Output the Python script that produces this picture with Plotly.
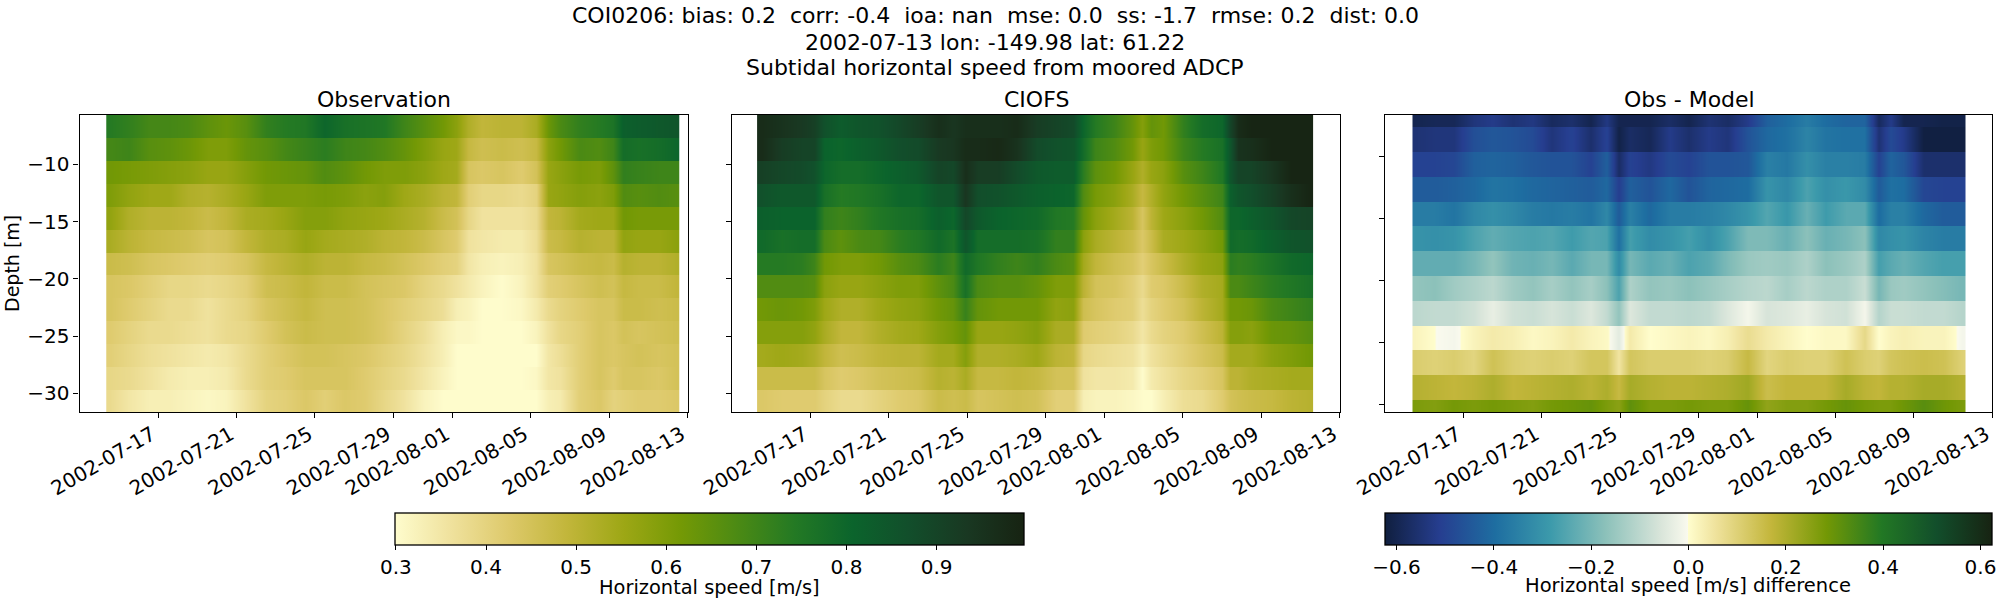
import pandas as pd
import plotly.graph_objects as go

# days since 2002-07-13 for each column, depth of each bin [m]
obs_days = [1.5,2.5,3.5,4.5,5.5,6.5,7.5,8.5,9.5,10.5,11.5,12.5,13.5,14.5,15.5,16.5,17.5,18.5,19.2,19.8,20.5,21.5,22.5,23.3,23.9,24.5,25.5,26.5,27.2,27.7,28.5,29.5,30.5]
obs_span = [1.35, 30.57]
obs_depth = [-6.7,-8.7,-10.7,-12.7,-14.7,-16.7,-18.7,-20.7,-22.7,-24.7,-26.7,-28.7,-30.7]
obs_speed = [
    [.74,.72,.69,.69,.68,.65,.63,.66,.72,.74,.75,.80,.77,.76,.75,.70,.66,.62,.58,.52,.49,.50,.50,.53,.63,.68,.72,.74,.76,.82,.83,.84,.85],
    [.69,.70,.66,.65,.63,.60,.60,.64,.66,.69,.71,.73,.70,.69,.67,.64,.60,.56,.55,.48,.46,.47,.46,.48,.58,.62,.68,.67,.70,.78,.77,.78,.80],
    [.62,.61,.60,.59,.58,.56,.56,.59,.62,.63,.64,.67,.65,.62,.60,.60,.58,.55,.54,.44,.43,.44,.42,.45,.56,.58,.61,.60,.65,.72,.71,.70,.70],
    [.60,.57,.55,.55,.52,.51,.53,.56,.60,.60,.60,.61,.60,.58,.59,.55,.53,.50,.49,.41,.39,.39,.38,.40,.56,.57,.59,.58,.60,.67,.66,.67,.66],
    [.57,.52,.50,.50,.49,.47,.49,.53,.54,.56,.59,.59,.57,.56,.55,.53,.51,.47,.45,.39,.36,.36,.36,.38,.49,.50,.54,.55,.55,.62,.61,.61,.61],
    [.53,.50,.48,.47,.46,.44,.45,.49,.52,.53,.56,.54,.53,.52,.50,.49,.47,.44,.42,.36,.35,.34,.34,.37,.47,.48,.51,.50,.50,.57,.56,.56,.58],
    [.47,.46,.44,.43,.42,.41,.42,.44,.48,.50,.52,.50,.50,.48,.47,.45,.43,.41,.40,.35,.33,.32,.33,.36,.44,.45,.47,.48,.47,.51,.50,.50,.52],
    [.44,.43,.41,.39,.39,.38,.39,.41,.46,.47,.49,.47,.47,.45,.44,.43,.40,.38,.36,.34,.32,.30,.32,.36,.41,.42,.44,.46,.45,.48,.47,.47,.49],
    [.44,.42,.40,.38,.38,.36,.38,.40,.44,.46,.48,.46,.46,.45,.43,.41,.39,.37,.33,.32,.30,.30,.31,.34,.38,.40,.42,.44,.44,.47,.47,.46,.47],
    [.42,.40,.38,.38,.37,.36,.38,.39,.42,.45,.47,.46,.46,.45,.43,.40,.37,.33,.31,.31,.30,.30,.30,.32,.36,.39,.41,.44,.43,.45,.44,.45,.46],
    [.41,.39,.37,.36,.35,.34,.35,.38,.41,.43,.45,.45,.44,.43,.41,.39,.36,.33,.30,.30,.30,.30,.30,.30,.35,.37,.41,.44,.43,.44,.45,.44,.45],
    [.39,.38,.36,.34,.33,.33,.34,.38,.41,.42,.44,.44,.44,.42,.40,.38,.35,.32,.30,.30,.30,.30,.30,.31,.35,.36,.41,.44,.42,.44,.44,.43,.45],
    [.38,.35,.33,.33,.32,.31,.32,.36,.40,.41,.43,.41,.43,.42,.39,.36,.32,.30,.30,.30,.30,.30,.30,.30,.33,.34,.41,.43,.40,.41,.42,.42,.43],
]

mod_days = [1.5,2.5,3.5,4.2,4.7,5.5,6.5,7.5,8.5,9.5,10.5,11.3,11.9,12.5,13.5,14.5,15.5,16.5,17.4,17.9,18.5,19.5,20.4,20.9,21.4,22,23,24,25,25.4,25.8,26.5,27.5,28.5,29.5]
mod_span = [1.27, 29.65]
mod_speed = [
    [.97,.95,.93,.91,.86,.83,.85,.86,.89,.92,.96,.94,.96,.96,.96,.97,.92,.90,.88,.80,.74,.70,.64,.59,.64,.62,.72,.78,.80,.90,.97,.99,.99,.99,.99],
    [.97,.92,.90,.90,.81,.80,.82,.84,.87,.88,.93,.94,.97,.97,.98,.95,.88,.86,.85,.78,.70,.67,.62,.56,.60,.62,.70,.74,.77,.85,.95,.96,.99,.99,.99],
    [.91,.89,.88,.86,.80,.78,.78,.80,.82,.84,.90,.89,.96,.92,.92,.88,.84,.83,.83,.73,.65,.62,.56,.52,.56,.58,.66,.70,.75,.85,.90,.90,.94,.99,.99],
    [.86,.84,.84,.84,.77,.74,.75,.77,.80,.80,.85,.85,.94,.87,.86,.84,.82,.81,.80,.67,.61,.58,.53,.48,.52,.57,.62,.66,.70,.82,.85,.87,.91,.96,.99],
    [.82,.81,.81,.81,.72,.70,.72,.75,.77,.78,.82,.80,.89,.84,.81,.80,.79,.75,.74,.64,.58,.54,.50,.44,.50,.55,.58,.62,.67,.80,.80,.82,.85,.89,.90],
    [.79,.77,.78,.78,.68,.65,.68,.69,.73,.75,.79,.76,.85,.78,.78,.78,.77,.72,.72,.58,.53,.50,.47,.43,.47,.53,.55,.58,.62,.79,.78,.79,.82,.85,.86],
    [.74,.74,.73,.70,.62,.60,.60,.62,.66,.68,.73,.70,.79,.75,.72,.70,.72,.68,.66,.54,.49,.46,.44,.41,.44,.47,.52,.56,.58,.73,.72,.73,.76,.79,.80],
    [.67,.67,.67,.66,.58,.56,.56,.58,.60,.60,.65,.68,.77,.68,.66,.66,.64,.60,.60,.50,.45,.44,.41,.38,.42,.43,.47,.52,.54,.68,.68,.70,.73,.75,.77],
    [.62,.63,.62,.60,.55,.52,.52,.55,.57,.58,.62,.64,.71,.64,.62,.62,.62,.57,.58,.46,.44,.42,.41,.37,.40,.42,.45,.50,.54,.62,.62,.63,.68,.70,.72],
    [.59,.59,.59,.57,.53,.49,.49,.52,.54,.55,.59,.61,.64,.56,.56,.57,.59,.53,.53,.42,.41,.40,.38,.35,.38,.40,.42,.46,.50,.59,.59,.58,.63,.64,.66],
    [.54,.55,.54,.52,.49,.46,.47,.49,.50,.50,.54,.54,.59,.52,.52,.53,.55,.50,.49,.39,.38,.37,.36,.33,.36,.38,.41,.44,.47,.54,.54,.54,.58,.60,.62],
    [.47,.47,.47,.47,.44,.42,.43,.45,.46,.47,.51,.50,.53,.48,.48,.49,.48,.45,.45,.36,.35,.35,.34,.30,.34,.36,.39,.41,.44,.50,.50,.52,.53,.54,.54],
    [.43,.42,.42,.42,.40,.38,.38,.40,.42,.43,.47,.46,.47,.44,.45,.46,.45,.41,.41,.33,.32,.32,.31,.30,.30,.33,.37,.38,.42,.45,.46,.47,.48,.50,.51],
]

diff_days = [1.5,2.5,3.5,4.5,5.5,6.5,7.5,8.5,9.5,10.5,11.3,11.9,12.5,13.5,14.5,15.5,16.5,17.5,18.5,19.5,20.5,21.5,22.5,23.5,24.5,25.2,25.8,26.5,27.5,28.5,29.5]
diff_span = [1.38, 29.67]
diff_depth = [-6.64,-8.64,-10.64,-12.64,-14.64,-16.64,-18.64,-20.64,-22.64,-24.64,-26.64,-28.64,-30.64]
diff_speed = [
    [-.60,-.59,-.59,-.54,-.52,-.55,-.53,-.58,-.56,-.60,-.53,-.60,-.60,-.60,-.57,-.60,-.55,-.57,-.52,-.43,-.40,-.36,-.40,-.42,-.42,-.58,-.52,-.60,-.60,-.61,-.61],
    [-.55,-.54,-.54,-.47,-.45,-.46,-.48,-.54,-.50,-.56,-.50,-.61,-.57,-.59,-.52,-.56,-.52,-.54,-.46,-.41,-.39,-.34,-.38,-.39,-.39,-.55,-.48,-.52,-.62,-.62,-.62],
    [-.50,-.50,-.49,-.43,-.42,-.43,-.45,-.46,-.46,-.50,-.43,-.57,-.50,-.53,-.48,-.50,-.46,-.46,-.45,-.35,-.37,-.31,-.35,-.35,-.36,-.50,-.42,-.45,-.56,-.56,-.56],
    [-.44,-.44,-.43,-.41,-.38,-.39,-.41,-.42,-.43,-.44,-.41,-.51,-.43,-.46,-.41,-.46,-.42,-.41,-.40,-.30,-.33,-.26,-.31,-.29,-.32,-.44,-.39,-.40,-.49,-.50,-.50],
    [-.36,-.36,-.38,-.33,-.31,-.33,-.36,-.37,-.36,-.38,-.33,-.44,-.35,-.41,-.36,-.36,-.35,-.33,-.30,-.25,-.29,-.22,-.28,-.24,-.24,-.40,-.35,-.35,-.41,-.44,-.44],
    [-.30,-.31,-.30,-.26,-.23,-.25,-.26,-.25,-.28,-.25,-.26,-.39,-.27,-.32,-.30,-.27,-.31,-.26,-.19,-.19,-.22,-.17,-.22,-.20,-.17,-.33,-.31,-.30,-.34,-.36,-.36],
    [-.23,-.23,-.23,-.20,-.16,-.21,-.22,-.20,-.24,-.20,-.20,-.32,-.20,-.24,-.22,-.26,-.24,-.19,-.15,-.14,-.15,-.12,-.17,-.15,-.12,-.27,-.24,-.22,-.25,-.27,-.27],
    [-.16,-.17,-.14,-.12,-.10,-.14,-.16,-.13,-.16,-.13,-.17,-.26,-.12,-.16,-.15,-.17,-.15,-.13,-.11,-.10,-.13,-.10,-.12,-.12,-.08,-.20,-.15,-.14,-.16,-.18,-.20],
    [-.10,-.09,-.09,-.07,-.03,-.07,-.08,-.06,-.08,-.05,-.09,-.16,-.05,-.09,-.09,-.10,-.09,-.05,-.01,-.06,-.05,-.03,-.06,-.07,-.01,-.11,-.08,-.08,-.09,-.09,-.11],
    [.02,.00,-.01,.02,.04,.03,.01,.02,.04,.02,.01,-.04,.04,.00,.01,.02,.01,.03,.07,.04,.02,.00,.01,.01,.08,.00,.02,.03,.02,.02,-.01],
    [.11,.10,.11,.09,.14,.11,.10,.11,.10,.13,.13,.05,.13,.11,.11,.11,.10,.11,.16,.09,.11,.10,.10,.14,.11,.10,.13,.14,.15,.14,.10],
    [.19,.18,.17,.18,.20,.17,.18,.19,.20,.18,.20,.16,.21,.19,.18,.18,.19,.20,.22,.15,.17,.17,.17,.21,.18,.17,.19,.19,.21,.21,.19],
    [.27,.26,.28,.27,.28,.27,.26,.28,.29,.30,.27,.25,.31,.27,.27,.28,.27,.27,.30,.24,.26,.26,.28,.30,.28,.27,.27,.29,.32,.29,.27],
]

date_ticks = ["2002-07-17","2002-07-21","2002-07-25","2002-07-29","2002-08-01","2002-08-05","2002-08-09","2002-08-13"]
depth_ticks = [-10,-15,-20,-25,-30]
speed_ticks = [0.3,0.4,0.5,0.6,0.7,0.8,0.9]
diff_ticks = [-0.6,-0.4,-0.2,0.0,0.2,0.4,0.6]
suptitle = ["COI0206: bias: 0.2  corr: -0.4  ioa: nan  mse: 0.0  ss: -1.7  rmse: 0.2  dist: 0.0",
            "2002-07-13 lon: -149.98 lat: 61.22",
            "Subtidal horizontal speed from moored ADCP"]

# plotly's own delta is too coarse around zero, where the map jumps to pale yellow
delta_scale = [[0, "rgb(16,31,63)"], [0.0909, "rgb(38,62,144)"], [0.1818, "rgb(30,110,161)"],
               [0.2727, "rgb(60,154,171)"], [0.3636, "rgb(140,193,186)"], [0.4545, "rgb(217,229,218)"],
               [0.4995, "rgb(250,250,238)"], [0.5, "rgb(255,253,205)"], [0.5454, "rgb(239,226,156)"],
               [0.6363, "rgb(195,182,59)"], [0.7272, "rgb(115,152,5)"], [0.8181, "rgb(34,120,36)"],
               [0.909, "rgb(18,78,43)"], [1, "rgb(23,35,18)"]]

W, H = 2000, 600
FONT = "DejaVu Sans"
start = pd.Timestamp("2002-07-13")


def px(x):
    return x / W


def py(y):
    return 1 - y / H


def to_dates(days):
    return [(start + pd.Timedelta(days=d)).strftime("%Y-%m-%d %H:%M:%S") for d in days]


def panel(days, span, depth, rows, **kw):
    # smooth along time but keep the depth bins as hard steps, so every
    # bin is given twice, once near each of its edges
    xs = [span[0] + 0.02, span[0] + 0.04] + days + [span[1] - 0.04, span[1] - 0.02]
    ys, zs = [], []
    for d, r in zip(depth, rows):
        r2 = [r[0], r[0]] + r + [r[-1], r[-1]]
        ys += [d + 0.99, d - 0.99]
        zs += [r2, r2]
    return go.Heatmap(x=to_dates(xs), y=ys, z=zs, zsmooth="best", hoverinfo="skip", **kw)


def cbar(left, right, ticks):
    return dict(orientation="h", x=px(left), xanchor="left", y=py(513), yanchor="top",
                len=right - left, lenmode="pixels", thickness=32, thicknessmode="pixels",
                outlinecolor="black", outlinewidth=1.3, ticks="outside", ticklen=5, tickwidth=1.2,
                tickcolor="black", tickvals=ticks, tickformat=".1f",
                tickfont=dict(family=FONT, size=20, color="black"), xpad=0, ypad=0)


fig = go.Figure()
fig.add_trace(panel(obs_days, obs_span, obs_depth, obs_speed, colorscale="speed", zmin=0.299, zmax=0.997,
                    xaxis="x", yaxis="y", colorbar=cbar(395, 1024, speed_ticks)))
fig.add_trace(panel(mod_days, mod_span, obs_depth, mod_speed, colorscale="speed", zmin=0.299, zmax=0.997,
                    xaxis="x2", yaxis="y2", showscale=False))
fig.add_trace(panel(diff_days, diff_span, diff_depth, diff_speed, colorscale=delta_scale, zmin=-0.6236, zmax=0.6236,
                    xaxis="x3", yaxis="y3", colorbar=cbar(1385, 1992, diff_ticks)))

bounds = [(79.6, 687.5), (732, 1339.6), (1385.3, 1992)]
y_ranges = [(-31.63, -5.7), (-31.63, -5.7), (-30.62, -6.67)]
layout = dict(width=W, height=H, margin=dict(l=0, r=0, t=0, b=0, autoexpand=False),
              paper_bgcolor="white", plot_bgcolor="white", showlegend=False)
for i, (l, r) in enumerate(bounds):
    s = "" if i == 0 else str(i + 1)
    layout["xaxis" + s] = dict(domain=[px(l), px(r)], range=["2002-07-13", "2002-08-13"], anchor="y" + s, type="date",
                               tickvals=date_ticks, tickformat="%Y-%m-%d", tickangle=-30, ticks="outside", ticklen=5,
                               tickwidth=1.2, tickcolor="black", showgrid=False, zeroline=False, showline=True,
                               mirror=True, linecolor="black", linewidth=1.3, ticklabelshift=-6, ticklabelstandoff=-3,
                               tickfont=dict(family=FONT, size=20, color="black"))
    layout["yaxis" + s] = dict(domain=[py(412), py(115)], range=list(y_ranges[i]), anchor="x" + s,
                               tickvals=depth_ticks, showticklabels=i == 0, ticks="outside", ticklen=5,
                               tickwidth=1.2, tickcolor="black", showgrid=False, zeroline=False, showline=True,
                               mirror=True, linecolor="black", linewidth=1.3,
                               tickfont=dict(family=FONT, size=20, color="black"))
fig.update_layout(**layout)


def label(text, x, y, size, angle=0):
    fig.add_annotation(text=text, x=px(x), y=py(y), xref="paper", yref="paper", showarrow=False,
                       xanchor="center", yanchor="middle", textangle=angle,
                       font=dict(family=FONT, size=size, color="black"))


for line, y in zip(suptitle, [15, 42, 68]):
    label(line, 995, y, 22)
label("Observation", 383.5, 99, 22)
label("CIOFS", 1036, 99, 22)
label("Obs - Model", 1689, 99, 22)
label("Depth [m]", 12, 264, 19, angle=-90)
label("Horizontal speed [m/s]", 709, 587, 19.4)
label("Horizontal speed [m/s] difference", 1688, 585, 19.5)

# the default page has an 8px body margin, the figure needs the whole window
fig.write_html("out.html", config={"displayModeBar": False}, post_script="document.body.style.margin='0';")
